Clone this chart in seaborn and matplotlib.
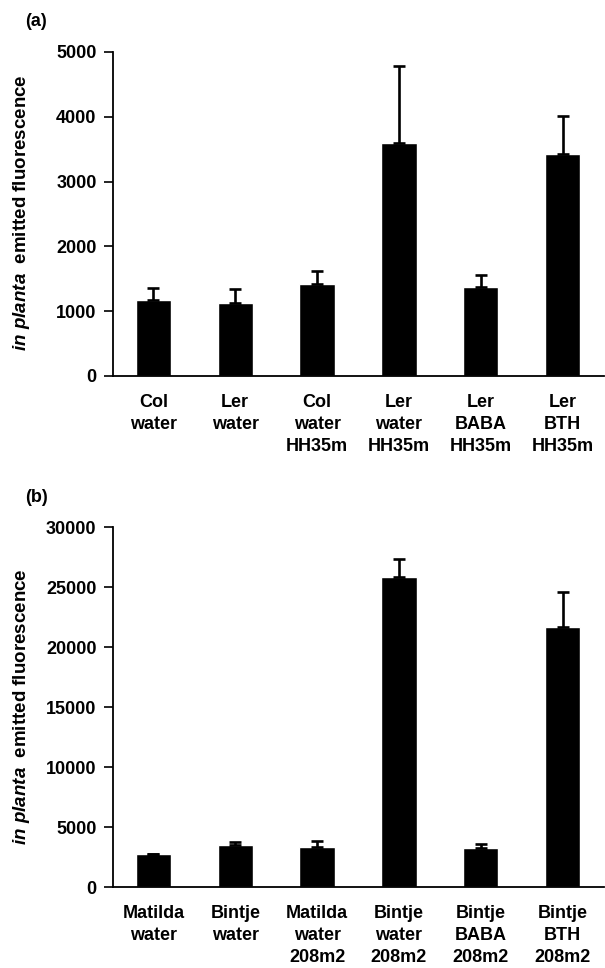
import matplotlib
matplotlib.use("Agg")
import matplotlib.pyplot as plt
import numpy as np
import pandas as pd
import seaborn as sns

# panel (a): Arabidopsis
labels_a = ["Col\nwater", "Ler\nwater", "Col\nwater\nHH35m", "Ler\nwater\nHH35m",
            "Ler\nBABA\nHH35m", "Ler\nBTH\nHH35m"]
means_a = [1180, 1130, 1420, 3600, 1370, 3420]
errs_a = [185, 215, 200, 1190, 190, 590]
ticks_a = [0, 1000, 2000, 3000, 4000, 5000]

# panel (b): potato
labels_b = ["Matilda\nwater", "Bintje\nwater", "Matilda\nwater\n208m2", "Bintje\nwater\n208m2",
            "Bintje\nBABA\n208m2", "Bintje\nBTH\n208m2"]
means_b = [2720, 3490, 3300, 25870, 3240, 21680]
errs_b = [60, 220, 530, 1470, 330, 2880]
ticks_b = [0, 5000, 10000, 15000, 20000, 25000, 30000]

sns.set_style("white")
plt.rcParams["font.family"] = ["Liberation Sans", "DejaVu Sans"]
plt.rcParams["mathtext.fontset"] = "custom"
plt.rcParams["mathtext.rm"] = "Liberation Sans:bold"
plt.rcParams["mathtext.it"] = "Liberation Sans:italic:bold"
for key in ("text.color", "axes.labelcolor", "xtick.color", "ytick.color"):
    plt.rcParams[key] = "black"

W, H = 605, 968
fig = plt.figure(figsize=(W / 100, H / 100), dpi=100)
ax_a = fig.add_axes([112.5 / W, 1 - 376 / H, 491 / W, 324 / H])
ax_b = fig.add_axes([112.5 / W, 1 - 887 / H, 491 / W, 360 / H])


def draw(ax, labels, means, errs, ticks):
    df = pd.DataFrame({"group": labels, "value": means})
    sns.barplot(data=df, x="group", y="value", color="black", width=0.43,
                errorbar=None, ax=ax, saturation=1)
    x = np.arange(len(labels))
    ax.errorbar(x, means, yerr=[np.zeros(len(errs)), errs], fmt="none",
                ecolor="black", elinewidth=1.9, capsize=4.5, capthick=1.9)
    ax.set_xlim(-0.5, len(labels) - 0.5)
    ax.set_ylim(ticks[0], ticks[-1])
    ax.set_yticks(ticks)
    ax.set_yticklabels([str(t) for t in ticks], fontsize=13, fontweight="bold", color="black")
    ax.set_xticklabels(labels, fontsize=13, fontweight="bold", linespacing=1.38, color="black")
    ax.set_xticks(np.arange(len(labels) + 1) - 0.5, minor=True)
    ax.tick_params(axis="x", which="major", length=0, pad=13)
    ax.tick_params(axis="x", which="minor", length=6.5, width=1.2, color="black", direction="out")
    ax.tick_params(axis="y", length=6.5, width=1.2, color="black", direction="out", pad=5, left=True)
    ax.set_xlabel("")
    ax.set_ylabel("")
    sns.despine(ax=ax)
    for s in ("left", "bottom"):
        ax.spines[s].set_color("black")
        ax.spines[s].set_linewidth(1.3)


draw(ax_a, labels_a, means_a, errs_a, ticks_a)
draw(ax_b, labels_b, means_b, errs_b, ticks_b)

ylab = r"$\it{in\ planta}$  emitted fluorescence"
fig.text(22 / W, 1 - 213 / H, ylab, rotation=90, fontsize=13.5, fontweight="bold",
         ha="center", va="center", color="black")
fig.text(22 / W, 1 - 707 / H, ylab, rotation=90, fontsize=13.5, fontweight="bold",
         ha="center", va="center", color="black")

fig.text(25 / W, 1 - 22 / H, "(a)", fontsize=13, fontweight="bold", ha="left", va="center", color="black")
fig.text(25 / W, 1 - 497 / H, "(b)", fontsize=13, fontweight="bold", ha="left", va="center", color="black")

fig.savefig("out.png", dpi=100)
